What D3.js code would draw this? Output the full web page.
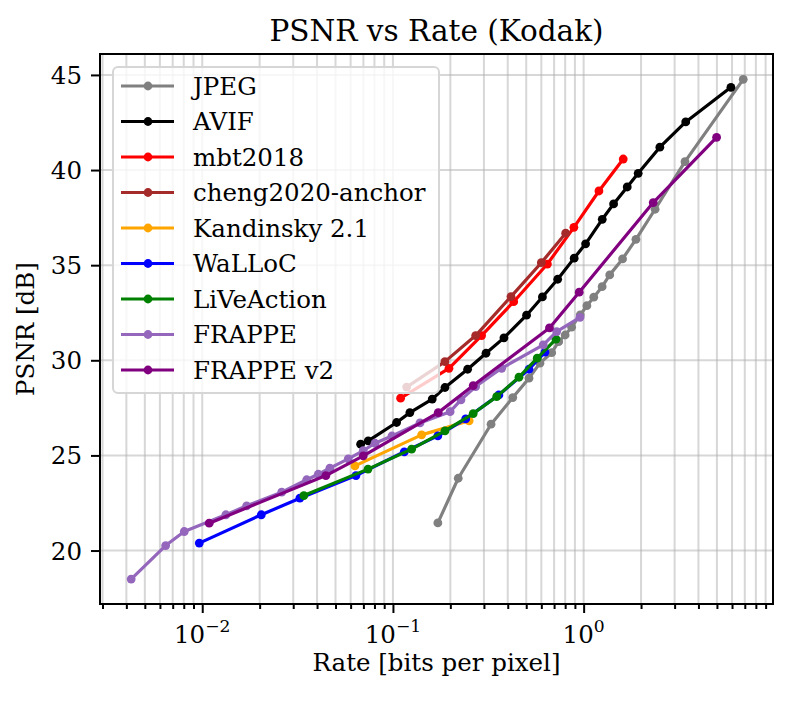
<!DOCTYPE html>
<meta charset="utf-8">
<script src="https://d3js.org/d3.v7.min.js"></script>
<style>
  body { margin: 0; background: #fff; }
  text { font-family: "DejaVu Serif", serif; fill: #000; }
</style>
<svg id="chart" width="792" height="701"></svg>
<script>
// data (rate in bpp, psnr in dB)
var jpegRate = [0.172, 0.22, 0.327, 0.425, 0.517, 0.59, 0.68, 0.74, 0.80, 0.865, 0.96, 1.04, 1.13, 1.25, 1.37, 1.60, 1.88, 2.37, 3.40, 6.87];
var jpegPsnr = [21.45, 23.8, 26.64, 28.04, 29.06, 29.85, 30.4, 30.98, 31.33, 31.74, 32.39, 32.87, 33.32, 33.87, 34.49, 35.33, 36.36, 37.94, 40.44, 44.77];

var avifRate = [0.0677, 0.0742, 0.1045, 0.1227, 0.1607, 0.1874, 0.2464, 0.3076, 0.382, 0.502, 0.608, 0.731, 0.892, 1.024, 1.252, 1.436, 1.693, 1.932, 2.51, 3.43, 5.92];
var avifPsnr = [25.59, 25.76, 26.73, 27.25, 27.96, 28.57, 29.53, 30.37, 31.18, 32.37, 33.33, 34.26, 35.37, 36.12, 37.41, 38.22, 39.11, 39.83, 41.20, 42.53, 44.35];

var mbtRate = [0.1097, 0.1967, 0.2917, 0.4297, 0.6455, 0.889, 1.203, 1.613];
var mbtPsnr = [28.01, 29.58, 31.30, 33.08, 35.06, 36.99, 38.90, 40.58];

var chengRate = [0.118, 0.1874, 0.2715, 0.416, 0.600, 0.805];
var chengPsnr = [28.59, 29.93, 31.30, 33.35, 35.13, 36.68];

var kandRate = [0.0632, 0.1414, 0.251];
var kandPsnr = [24.45, 26.08, 26.82];

var wallocRate = [0.00965, 0.0204, 0.0325, 0.0640, 0.1147, 0.172, 0.2406, 0.3594, 0.517, 0.627];
var wallocPsnr = [20.39, 21.88, 22.75, 23.94, 25.19, 26.03, 26.92, 28.18, 29.53, 30.43];

var liveRate = [0.0341, 0.0740, 0.1253, 0.1874, 0.2636, 0.350, 0.458, 0.571, 0.716];
var livePsnr = [22.89, 24.28, 25.33, 26.29, 27.20, 28.09, 29.11, 30.11, 31.11];

var frappeRate = [0.00424, 0.00643, 0.00805, 0.0133, 0.0171, 0.0261, 0.0353, 0.0406, 0.0467, 0.0583, 0.0699, 0.0805, 0.0988, 0.1386, 0.1995, 0.2274, 0.2715, 0.3715, 0.614, 0.722, 0.957];
var frappePsnr = [18.50, 20.26, 21.0, 21.88, 22.35, 23.07, 23.72, 24.01, 24.33, 24.82, 25.25, 25.64, 26.02, 26.71, 27.30, 27.92, 28.62, 29.58, 30.81, 31.51, 32.26];

var frappe2Rate = [0.01088, 0.0445, 0.0699, 0.1728, 0.2636, 0.662, 0.948, 2.317, 4.98];
var frappe2Psnr = [21.44, 23.94, 24.98, 27.25, 28.67, 31.70, 33.58, 38.29, 41.72];

var names = ["JPEG", "AVIF", "mbt2018", "cheng2020-anchor", "Kandinsky 2.1", "WaLLoC", "LiVeAction", "FRAPPE", "FRAPPE v2"];
var colors = ["#808080", "#000000", "#ff0000", "#a52a2a", "#ffa500", "#0000ff", "#008000", "#9467bd", "#800080"];
var rates = [jpegRate, avifRate, mbtRate, chengRate, kandRate, wallocRate, liveRate, frappeRate, frappe2Rate];
var psnrs = [jpegPsnr, avifPsnr, mbtPsnr, chengPsnr, kandPsnr, wallocPsnr, livePsnr, frappePsnr, frappe2Psnr];

var yTicks = [20, 25, 30, 35, 40, 45];
var xMajor = [0.01, 0.1, 1];
var xExp = ["\u22122", "\u22121", "0"];

var series = names.map(function(n, i) {
  return { name: n, color: colors[i], pts: rates[i].map(function(r, j) { return [r, psnrs[i][j]]; }) };
});

var svg = d3.select("#chart");
var pL = 100, pR = 773, pT = 54, pB = 604;
var fs = 24.5;

var x = d3.scaleLog().domain([0.00291, 9.84]).range([pL, pR]);
var y = d3.scaleLinear().domain([17.19, 46.1]).range([pB, pT]);

// minor tick values 2..9 per decade
var xMinor = [];
[0.001, 0.01, 0.1, 1].forEach(function(d) {
  for (var k = 2; k <= 9; k++) {
    var v = d * k;
    if (v >= 0.00291 && v <= 9.84) xMinor.push(v);
  }
});

// grid
var grid = svg.append("g");
grid.selectAll(".gx").data(xMajor.concat(xMinor)).enter().append("line")
  .attr("x1", function(d){ return x(d); }).attr("x2", function(d){ return x(d); })
  .attr("y1", pT).attr("y2", pB)
  .style("stroke", "#b0b0b0").style("stroke-opacity", 0.5).style("stroke-width", 2);
grid.selectAll(".gy").data(yTicks).enter().append("line")
  .attr("x1", pL).attr("x2", pR)
  .attr("y1", function(d){ return y(d); }).attr("y2", function(d){ return y(d); })
  .style("stroke", "#b0b0b0").style("stroke-opacity", 0.5).style("stroke-width", 2);

// series
var line = d3.line().x(function(d){ return x(d[0]); }).y(function(d){ return y(d[1]); });
var plot = svg.append("g");
series.forEach(function(s) {
  plot.append("path").datum(s.pts).attr("d", line)
    .style("fill", "none").style("stroke", s.color).style("stroke-width", 3.2)
    .style("stroke-linejoin", "round").style("stroke-linecap", "round");
  plot.selectAll(null).data(s.pts).enter().append("circle")
    .attr("cx", function(d){ return x(d[0]); }).attr("cy", function(d){ return y(d[1]); })
    .attr("r", 4.4).style("fill", s.color);
});

// axes
var xAxis = svg.append("g").attr("transform", "translate(0," + pB + ")")
  .call(d3.axisBottom(x).tickValues(xMajor).tickSize(9).tickFormat(""));
var xAxisMinor = svg.append("g").attr("transform", "translate(0," + pB + ")")
  .call(d3.axisBottom(x).tickValues(xMinor).tickSize(5).tickFormat(""));
var yAxis = svg.append("g").attr("transform", "translate(" + pL + ",0)")
  .call(d3.axisLeft(y).tickValues(yTicks).tickSize(9).tickFormat(""));
[xAxis, xAxisMinor, yAxis].forEach(function(a) {
  a.select(".domain").remove();
  a.selectAll(".tick line").style("stroke", "#000").style("stroke-width", 2);
});

// frame
svg.append("rect").attr("x", pL).attr("y", pT).attr("width", pR - pL).attr("height", pB - pT)
  .style("fill", "none").style("stroke", "#000").style("stroke-width", 2);

// tick labels
yTicks.forEach(function(v) {
  svg.append("text").attr("x", 82).attr("y", y(v) + 9).attr("text-anchor", "end")
    .style("font-size", fs + "px").text(v);
});
xMajor.forEach(function(v, i) {
  var t = svg.append("text").attr("x", x(v)).attr("y", 643).attr("text-anchor", "middle")
    .style("font-size", fs + "px");
  t.append("tspan").text("10");
  t.append("tspan").attr("dy", -11).style("font-size", (fs * 0.7) + "px").text(xExp[i]);
});

// titles
svg.append("text").attr("x", (pL + pR) / 2).attr("y", 41).attr("text-anchor", "middle")
  .style("font-size", "29.5px").text("PSNR vs Rate (Kodak)");
svg.append("text").attr("x", (pL + pR) / 2).attr("y", 671).attr("text-anchor", "middle")
  .style("font-size", fs + "px").text("Rate [bits per pixel]");
svg.append("text").attr("transform", "translate(34," + (pT + pB) / 2 + ") rotate(-90)")
  .attr("text-anchor", "middle").style("font-size", fs + "px").text("PSNR [dB]");

// legend
var lg = svg.append("g");
lg.append("rect").attr("x", 113).attr("y", 67).attr("width", 326).attr("height", 326).attr("rx", 5)
  .style("fill", "#fff").style("fill-opacity", 0.8).style("stroke", "#d6d6d6").style("stroke-width", 2);
series.forEach(function(s, i) {
  var ly = 86 + i * 35.5;
  lg.append("line").attr("x1", 121).attr("x2", 174).attr("y1", ly).attr("y2", ly)
    .style("stroke", s.color).style("stroke-width", 3.2);
  lg.append("circle").attr("cx", 148).attr("cy", ly).attr("r", 4.4).style("fill", s.color);
  lg.append("text").attr("x", 193).attr("y", ly + 8.5).style("font-size", fs + "px").text(s.name);
});
</script>
